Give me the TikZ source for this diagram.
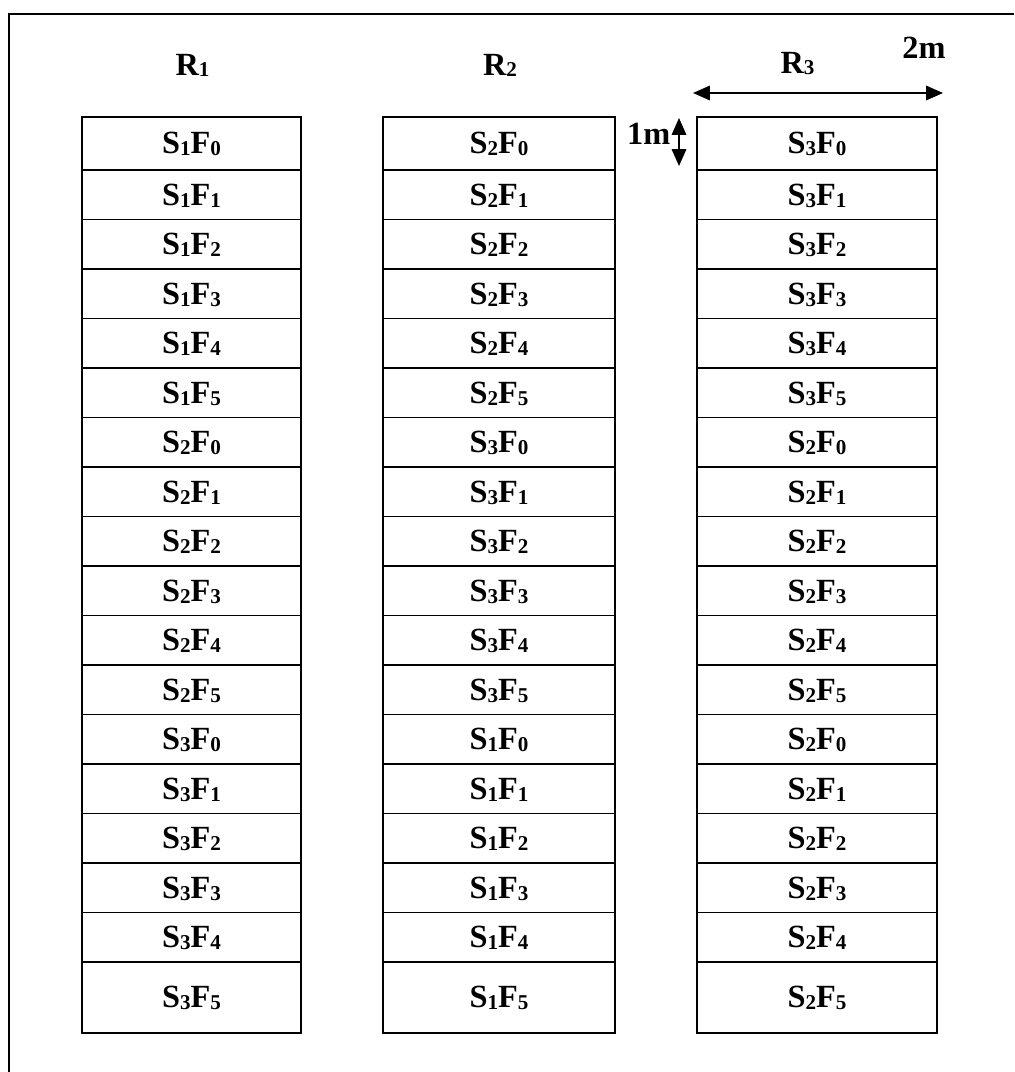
\documentclass[tikz,border=0pt]{standalone}
\usepackage{fontspec}
\setmainfont{Liberation Serif}
\usetikzlibrary{arrows.meta}

% indice bas, presque sur la ligne de base
\newcommand{\lowidx}[1]{\raisebox{-0.06em}{\fontsize{15}{15}\selectfont #1}}

\tikzset{
  cell/.style={draw, line width=1pt, inner sep=0pt, text height=0.52cm, text depth=0pt,
    font=\bfseries\fontsize{23}{26}\selectfont},
  headtext/.style={anchor=base, inner sep=0pt, font=\bfseries\fontsize{23}{26}\selectfont},
  dimarrow/.style={{Triangle[length=0.42cm,width=0.36cm]}-{Triangle[length=0.42cm,width=0.36cm]}, line width=1.2pt}
}

\begin{document}
\begin{tikzpicture}[x=0.025cm, y=-0.025cm]
    \useasboundingbox (0,0) rectangle (1014,1072);

    % Cadre
    \draw[line width=1.4pt] (1014,14) -- (9,14) -- (9,1072);

    % Titres des rangees
    \node[headtext] (r1) at (192.5,75) {R\lowidx{1}};
    \node[headtext] (r2) at (500,75) {R\lowidx{2}};
    \node[headtext] (r3) at (797.5,73) {R\lowidx{3}};

    % Colonnes de cases
    \foreach \col/\xc/\w/\sa/\sb/\sc in {1/191.5/219/1/2/3, 2/499/232/2/3/1, 3/817/240/3/2/2} {
      \foreach \s [count=\g from 0] in {\sa,\sb,\sc} {
        \foreach \f in {0,...,5} {
          \pgfmathtruncatemacro{\r}{6*\g+\f}
          \pgfmathsetmacro{\yt}{\r==0 ? 117 : 170+49.5*(\r-1)}
          \pgfmathsetmacro{\yb}{\r==17 ? 1033 : 170+49.5*\r}
          \node[cell, minimum width=\w*0.025cm, minimum height=(\yb-\yt)*0.025cm]
            (c\col-\r) at (\xc,{(\yt+\yb)/2}) {S\lowidx{\s}F\lowidx{\f}};
        }
      }
    }

    % Cotes
    \coordinate (wl) at (693,93);
    \coordinate (wr) at (943,93);
    \draw[dimarrow] (wl) -- (wr);
    \node[headtext] (wlab) at (924,58) {2m};

    \coordinate (ht) at (679,118);
    \coordinate (hb) at (679,166);
    \draw[dimarrow] (ht) -- (hb);
    \node[headtext] (hlab) at (648.7,144) {1m};
\end{tikzpicture}
\end{document}
